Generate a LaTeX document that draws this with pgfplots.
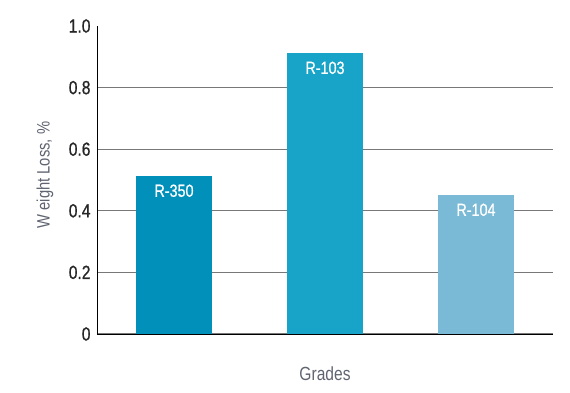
\documentclass[border=0pt]{standalone}
\usepackage{fontspec}
\setmainfont{Liberation Sans}[FakeStretch=0.82]
\newfontfamily\tickfont{Liberation Sans}[FakeStretch=0.82, FakeBold=0.8]
\usepackage{pgfplots}
\pgfplotsset{compat=1.18}
\definecolor{cA}{RGB}{0,144,186}
\definecolor{cB}{RGB}{24,164,200}
\definecolor{cC}{RGB}{123,186,214}
\definecolor{gridc}{RGB}{120,120,120}
\definecolor{labc}{RGB}{95,100,112}
\begin{document}
\begin{tikzpicture}
\path[use as bounding box] (-97pt,-58pt) rectangle (473pt,334pt);
\begin{axis}[
  at={(0pt,0pt)}, anchor=south west,
  scale only axis, width=456pt, height=308pt,
  xmin=-0.51, xmax=2.51, ymin=0, ymax=1.0,
  ytick={0,0.2,0.4,0.6,0.8},
  yticklabels={0,0.2,0.4,0.6,0.8},
  extra y ticks={1.0}, extra y tick labels={1.0},
  extra y tick style={grid=none},
  xtick=\empty,
  axis x line*=bottom, axis y line*=left,
  axis line style={black, line width=0.9pt, -},
  ymajorgrids, grid style={gridc, line width=1.1pt},
  major tick length=0pt,
  /pgf/number format/assume math mode=true,
  yticklabel style={font=\tickfont\fontsize{19}{21}\selectfont, text=black!85, xshift=-3pt},
  ylabel={W eight Loss, \%},
  ylabel style={font=\fontsize{18}{20}\selectfont, text=labc, at={(axis description cs:0,0.516)}, anchor=center, yshift=52pt},
  xlabel={Grades},
  xlabel style={font=\fontsize{19}{21}\selectfont, text=labc, at={(axis description cs:0.5,0)}, anchor=center, yshift=-40pt},
  ybar, bar width=76pt, bar shift=0pt,
  every node near coord/.append style={anchor=north, yshift=-5pt, text=white, font=\tickfont\fontsize{17.5}{19}\selectfont},
  clip=false,
]
\addplot[fill=cA, draw=none, nodes near coords={R-350}] coordinates {(0,0.513)};
\addplot[fill=cB, draw=none, nodes near coords={R-103}] coordinates {(1,0.912)};
\addplot[fill=cC, draw=none, nodes near coords={R-104}] coordinates {(2,0.451)};
\end{axis}
\end{tikzpicture}
\end{document}
